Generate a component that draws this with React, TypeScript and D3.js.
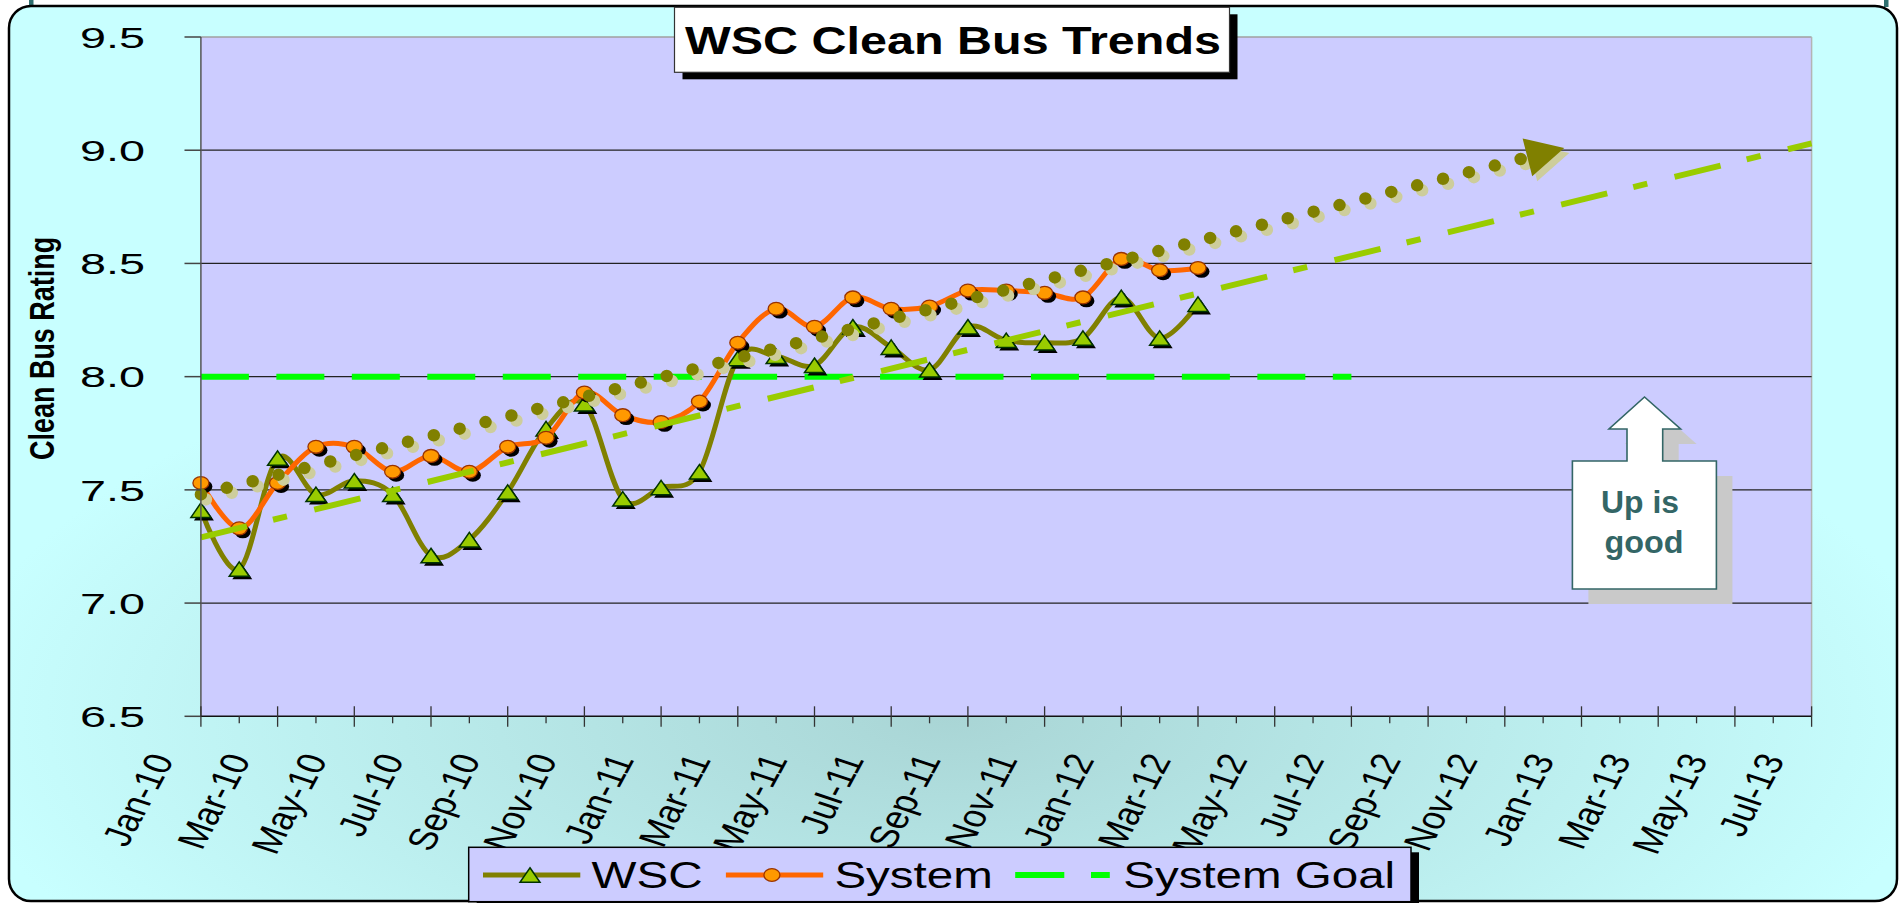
import React from "react";
import * as d3 from "d3";

// ---------- data ----------
const xTickLabels = [
  "Jan-10", "Mar-10", "May-10", "Jul-10", "Sep-10", "Nov-10",
  "Jan-11", "Mar-11", "May-11", "Jul-11", "Sep-11", "Nov-11",
  "Jan-12", "Mar-12", "May-12", "Jul-12", "Sep-12", "Nov-12",
  "Jan-13", "Mar-13", "May-13", "Jul-13",
];
const yTicks = [6.5, 7.0, 7.5, 8.0, 8.5, 9.0, 9.5];
const yGrid = [7.0, 7.5, 8.0, 8.5, 9.0];

// monthly values, Jan-10 .. Mar-12
const wscValues = [
  7.41, 7.15, 7.64, 7.48, 7.54, 7.48, 7.21, 7.28, 7.49, 7.77, 7.88, 7.46,
  7.51, 7.58, 8.08, 8.09, 8.05, 8.22, 8.13, 8.03, 8.22, 8.16, 8.15, 8.17,
  8.35, 8.17, 8.32,
];
const systemValues = [
  7.53, 7.33, 7.53, 7.69, 7.69, 7.58, 7.65, 7.58, 7.69, 7.73, 7.93, 7.83,
  7.80, 7.89, 8.15, 8.30, 8.22, 8.35, 8.30, 8.31, 8.38, 8.38, 8.37, 8.35,
  8.52, 8.47, 8.48,
];
// System Goal, Jan-10 .. Jul-12
const goalValues = [
  8.0, 8.0, 8.0, 8.0, 8.0, 8.0, 8.0, 8.0, 8.0, 8.0, 8.0, 8.0, 8.0, 8.0, 8.0, 8.0,
  8.0, 8.0, 8.0, 8.0, 8.0, 8.0, 8.0, 8.0, 8.0, 8.0, 8.0, 8.0, 8.0, 8.0, 8.0,
];
// trend lines: [month index, value]
const dottedTrend: [number, number][] = [[0, 7.48], [35.55, 9.01]];
const dashDotTrend: [number, number][] = [[0, 7.29], [42, 9.03]];

const legendItems = ["WSC", "System", "System Goal"];
const FONT = "'Liberation Sans', Arial, sans-serif";

export default function App() {
  const W = 1901, H = 903;
  const x = d3.scaleLinear().domain([0, 42]).range([200.9, 1811.6]);
  const y = d3.scaleLinear().domain([6.5, 9.5]).range([716.3, 37]);
  const left = x(0), right = x(42), top = y(9.5), bottom = y(6.5);

  const smooth = d3
    .line<number>()
    .x((_, i) => x(i))
    .y((d) => y(d))
    .curve(d3.curveCatmullRom.alpha(0));
  const straight = d3
    .line<[number, number]>()
    .x((d) => x(d[0]))
    .y((d) => y(d[1]));
  const goalLine = d3
    .line<number>()
    .x((_, i) => x(i))
    .y((d) => y(d));

  // dotted trend with arrowhead
  const [t0, t1] = dottedTrend;
  const tipX = x(t1[0]), tipY = y(t1[1]);
  const sx = x(t0[0]), sy = y(t0[1]);
  const dx = tipX - sx, dy = tipY - sy;
  const len = Math.hypot(dx, dy);
  const ux = dx / len, uy = dy / len;
  const aLen = 38, aHalf = 19.5;
  const bx = tipX - ux * aLen, by = tipY - uy * aLen;
  const arrowPts = [
    [tipX, tipY],
    [bx - uy * aHalf, by + ux * aHalf],
    [bx + uy * aHalf, by - ux * aHalf],
  ];
  const arrowPath = "M" + arrowPts.map((p) => p.join(",")).join("L") + "Z";
  const dotLine = `M${sx},${sy}L${bx + ux * 4},${by + uy * 4}`;

  const tri = (cx: number, cy: number) =>
    `M${cx},${cy - 7.3}L${cx + 10},${cy + 7.2}L${cx - 10},${cy + 7.2}Z`;

  // callout
  const cL = 1572.4, cR = 1716.4, cT = 461, cB = 589;
  const callout = `M${cL},${cB}L${cL},${cT}L1627,${cT}L1627,429L1609,429L1644.5,397L1680.6,429L1662.7,429L1662.7,${cT}L${cR},${cT}L${cR},${cB}Z`;

  return (
    <svg
      width={W}
      height={H}
      style={{ position: "absolute", left: 0, top: 0, background: "#fff" }}
    >
      <defs>
        <radialGradient
          id="bg"
          gradientUnits="userSpaceOnUse"
          cx={950}
          cy={716}
          r={1000}
          gradientTransform="translate(950,716) scale(1,0.42) translate(-950,-716)"
        >
          <stop offset="0" stopColor="#A9D5D5" />
          <stop offset="1" stopColor="#C8FFFF" />
        </radialGradient>
      </defs>
      <rect x={29} y={0} width={4.5} height={7} fill="#2F6F6F" />
      <rect x={1884} y={0} width={4.5} height={7} fill="#2F6F6F" />
      <rect
        x={9}
        y={6}
        width={1888}
        height={895}
        rx={22}
        ry={22}
        fill="url(#bg)"
        stroke="#000"
        strokeWidth={2.5}
      />

      {/* plot area */}
      <rect x={left} y={top} width={right - left} height={bottom - top} fill="#CCCCFF" />
      <line x1={left} x2={right} y1={top} y2={top} stroke="#A0A0A0" strokeWidth={1.5} />
      <line x1={right} x2={right} y1={top} y2={bottom} stroke="#B4B4B4" strokeWidth={1.5} />
      {yGrid.map((v) => (
        <line key={v} x1={left} x2={right} y1={y(v)} y2={y(v)} stroke="#222" strokeWidth={1.2} />
      ))}

      {/* callout */}
      <path d={callout} transform="translate(16,15)" fill="#C9C9C9" />
      <path d={callout} fill="#fff" stroke="#336666" strokeWidth={1.6} />
      <text
        x={1640}
        y={513.3}
        textAnchor="middle"
        fontFamily={FONT}
        fontWeight="bold"
        fontSize={32}
        fill="#336666"
        textLength={78}
        lengthAdjust="spacingAndGlyphs"
      >
        Up is
      </text>
      <text
        x={1644}
        y={553.3}
        textAnchor="middle"
        fontFamily={FONT}
        fontWeight="bold"
        fontSize={32}
        fill="#336666"
        textLength={79}
        lengthAdjust="spacingAndGlyphs"
      >
        good
      </text>

      {/* goal */}
      <path
        d={goalLine(goalValues) || ""}
        fill="none"
        stroke="#00FF00"
        strokeWidth={6}
        strokeDasharray="48 27.46"
      />

      {/* WSC */}
      <path d={smooth(wscValues) || ""} fill="none" stroke="#808000" strokeWidth={5} strokeLinejoin="round" />
      {wscValues.map((v, i) => (
        <g key={"w" + i}>
          <path d={tri(x(i) + 3, y(v) + 3)} fill="#000" />
          <path d={tri(x(i), y(v))} fill="#99CC00" stroke="#003300" strokeWidth={1.5} strokeLinejoin="miter" />
        </g>
      ))}

      {/* System */}
      <path d={smooth(systemValues) || ""} fill="none" stroke="#FF6600" strokeWidth={5} strokeLinejoin="round" />
      {systemValues.map((v, i) => (
        <g key={"s" + i}>
          <ellipse cx={x(i) + 3.5} cy={y(v) + 3.5} rx={8} ry={6.4} fill="#000" />
          <ellipse cx={x(i)} cy={y(v)} rx={8} ry={6.4} fill="#FF9900" stroke="#993300" strokeWidth={1.3} />
        </g>
      ))}

      {/* dash-dot trend */}
      <path
        d={straight(dashDotTrend) || ""}
        fill="none"
        stroke="#99CC00"
        strokeWidth={6}
        strokeDasharray="47.4 26.8 14.4 28.1"
      />

      {/* dotted trend with arrow */}
      <g transform="translate(5,5)">
        <path d={dotLine} fill="none" stroke="#CDCD9C" strokeWidth={12.5} strokeLinecap="round" strokeDasharray="0 26.7" />
        <path d={arrowPath} fill="#CDCD9C" />
      </g>
      <path d={dotLine} fill="none" stroke="#808000" strokeWidth={12.5} strokeLinecap="round" strokeDasharray="0 26.7" />
      <path d={arrowPath} fill="#808000" />

      {/* axes */}
      <line x1={left} x2={left} y1={top} y2={bottom} stroke="#555" strokeWidth={1.5} />
      {yTicks.map((v) => (
        <line key={"yt" + v} x1={184.5} x2={left} y1={y(v)} y2={y(v)} stroke="#444" strokeWidth={1.5} />
      ))}
      {yTicks.map((v) => (
        <text
          key={"yl" + v}
          x={145}
          y={y(v) + 10.8}
          textAnchor="end"
          fontFamily={FONT}
          fontSize={30.3}
          fill="#000"
          textLength={65}
          lengthAdjust="spacingAndGlyphs"
        >
          {v.toFixed(1)}
        </text>
      ))}
      <line x1={left} x2={right} y1={bottom} y2={bottom} stroke="#111" strokeWidth={1.5} />
      {d3.range(0, 43).map((m) => (
        <line
          key={"xt" + m}
          x1={x(m)}
          x2={x(m)}
          y1={m % 2 === 0 ? bottom - 10 : bottom}
          y2={m % 2 === 0 ? bottom + 10.5 : bottom + 7}
          stroke="#333"
          strokeWidth={1.3}
        />
      ))}
      {xTickLabels.map((lab, k) => (
        <text
          key={lab}
          transform={`translate(${x(k * 2) - 26.4},759.5) scale(1.27,1) rotate(-67)`}
          textAnchor="end"
          fontFamily={FONT}
          fontSize={31.5}
          fill="#000"
        >
          {lab}
        </text>
      ))}
      <text
        transform="translate(54.4,348.4) scale(1.28,1) rotate(-90)"
        textAnchor="middle"
        fontFamily={FONT}
        fontWeight="bold"
        fontSize={26.9}
        fill="#000"
        textLength={223}
        lengthAdjust="spacingAndGlyphs"
      >
        Clean Bus Rating
      </text>

      {/* title */}
      <rect x={682.5} y={14.3} width={555} height={65} fill="#000" />
      <rect x={674.5} y={7.3} width={555} height={65} fill="#fff" stroke="#333" strokeWidth={1.2} />
      <text
        x={685}
        y={53.5}
        fontFamily={FONT}
        fontWeight="bold"
        fontSize={38}
        fill="#000"
        textLength={536}
        lengthAdjust="spacingAndGlyphs"
      >
        WSC Clean Bus Trends
      </text>

      {/* legend */}
      <rect x={476.7} y={852.3} width={942.3} height={54.4} fill="#000" />
      <rect x={468.7} y={847.3} width={942.3} height={54.4} fill="#CCCCFF" stroke="#000" strokeWidth={1.5} />
      <line x1={483} x2={580.3} y1={875} y2={875} stroke="#808000" strokeWidth={5} />
      <path d={tri(530, 875)} fill="#99CC00" stroke="#003300" strokeWidth={1.5} />
      <line x1={725.9} x2={823.2} y1={875} y2={875} stroke="#FF6600" strokeWidth={5} />
      <ellipse cx={771.9} cy={875} rx={8} ry={6.4} fill="#FF9900" stroke="#993300" strokeWidth={1.3} />
      <line x1={1015.2} x2={1064.3} y1={875} y2={875} stroke="#00FF00" strokeWidth={6} />
      <line x1={1091} x2={1109.8} y1={875} y2={875} stroke="#00FF00" strokeWidth={6} />
      {legendItems.map((lab, i) => {
        const xs = [591.5, 834.4, 1123.2];
        const ws = [111, 158.4, 272];
        return (
          <text
            key={lab}
            x={xs[i]}
            y={888.3}
            fontFamily={FONT}
            fontSize={37}
            fill="#000"
            textLength={ws[i]}
            lengthAdjust="spacingAndGlyphs"
          >
            {lab}
          </text>
        );
      })}
    </svg>
  );
}
